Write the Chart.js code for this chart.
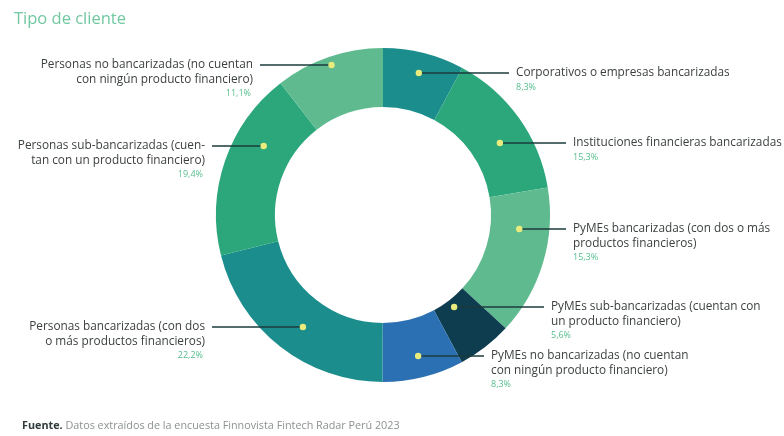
<!DOCTYPE html>
<html lang="es">
<head>
<meta charset="utf-8">
<title>Tipo de cliente</title>
<script src="https://cdn.jsdelivr.net/npm/chart.js@4.4.1/dist/chart.umd.min.js"></script>
<style>
  html, body { margin: 0; padding: 0; background: #ffffff; }
  #wrap { position: relative; width: 784px; height: 436px; overflow: hidden; font-family: "Open Sans", Lato, sans-serif; }
  #chart { position: absolute; left: 0; top: 0; }
  #title { position: absolute; left: 14px; top: 6px; font-size: 16.5px; color: #72c8a0; font-weight: 400; }
  #source { position: absolute; left: 22px; top: 417px; font-size: 10.8px; color: #8c9191; white-space: nowrap; }
  #source b { color: #2f3a3a; font-weight: 700; }
</style>
</head>
<body>
<div id="wrap">
  <canvas id="chart" width="784" height="436"></canvas>
  <div id="title">Tipo de cliente</div>
  <div id="source"><b>Fuente.</b> Datos extraídos de la encuesta Finnovista Fintech Radar Perú 2023</div>
</div>
<script>
// Client segments, clockwise from 12 o'clock
const categories = [
  'Corporativos o empresas bancarizadas',
  'Instituciones financieras bancarizadas',
  'PyMEs bancarizadas (con dos o más productos financieros)',
  'PyMEs sub-bancarizadas (cuentan con un producto financiero)',
  'PyMEs no bancarizadas (no cuentan con ningún producto financiero)',
  'Personas bancarizadas (con dos o más productos financieros)',
  'Personas sub-bancarizadas (cuentan con un producto financiero)',
  'Personas no bancarizadas (no cuentan con ningún producto financiero)'
];

// Share of respondents (%)
const shares = [8.3, 15.3, 15.3, 5.6, 8.3, 22.2, 19.4, 11.1];

// Wrapped text for each callout
const labelLines = [
  ['Corporativos o empresas bancarizadas'],
  ['Instituciones financieras bancarizadas'],
  ['PyMEs bancarizadas (con dos o más', 'productos financieros)'],
  ['PyMEs sub-bancarizadas (cuentan con', 'un producto financiero)'],
  ['PyMEs no bancarizadas (no cuentan', 'con ningún producto financiero)'],
  ['Personas bancarizadas (con dos', 'o más productos financieros)'],
  ['Personas sub-bancarizadas (cuen-', 'tan con un producto financiero)'],
  ['Personas no bancarizadas (no cuentan', 'con ningún producto financiero)']
];

const sliceColors = ['#1b8d8c', '#2ba77b', '#5fbb8f', '#0e3d4f', '#2b70b2', '#1b8d8c', '#2ba77b', '#5fbb8f'];

// Callout placement: text anchor x (left edge on the right side, right edge on the left side) and leader y
const callouts = [
  { side: 'right', x: 516, y: 73 },
  { side: 'right', x: 573, y: 143 },
  { side: 'right', x: 573, y: 229 },
  { side: 'right', x: 551, y: 307 },
  { side: 'right', x: 491, y: 356 },
  { side: 'left',  x: 205, y: 327 },
  { side: 'left',  x: 205, y: 146 },
  { side: 'left',  x: 253, y: 65 }
];

const fmtPct = v => v.toFixed(1).replace('.', ',') + '%';

// Finds a point inside a slice lying on the horizontal line y, close to the slice centre
function anchorInSlice(arc, y) {
  const cx = arc.x, cy = arc.y;
  const rin = arc.innerRadius, rout = arc.outerRadius;
  const rmid = (rin + rout) / 2, halfT = (rout - rin) / 2;
  const span = arc.endAngle - arc.startAngle;
  const margin = Math.min(0.12, span * 0.3);
  const amid = (arc.startAngle + arc.endAngle) / 2;
  let best = null;
  for (let k = 0; k <= 400; k++) {
    const a = arc.startAngle + margin + (span - 2 * margin) * k / 400;
    const s = Math.sin(a);
    if (Math.abs(s) < 1e-4) continue;
    const r = (y - cy) / s;
    if (r < rin + 8 || r > rout - 8) continue;
    const cost = Math.abs(r - rmid) / halfT + Math.abs(a - amid) / (span / 2);
    if (!best || cost < best.cost) best = { cost, x: cx + r * Math.cos(a), y };
  }
  if (!best) best = { x: cx + rmid * Math.cos(amid), y: cy + rmid * Math.sin(amid) };
  return best;
}

const calloutPlugin = {
  id: 'callouts',
  afterDatasetsDraw(chart) {
    const ctx = chart.ctx;
    const meta = chart.getDatasetMeta(0);
    meta.data.forEach((el, i) => {
      const arc = el.getProps(['x', 'y', 'startAngle', 'endAngle', 'innerRadius', 'outerRadius'], true);
      const c = callouts[i];
      const p = anchorInSlice(arc, c.y);
      const lineEnd = c.side === 'right' ? c.x - 7 : c.x + 7;

      ctx.save();
      ctx.strokeStyle = '#1d3b3c';
      ctx.lineWidth = 1.4;
      ctx.beginPath();
      ctx.moveTo(p.x, p.y);
      ctx.lineTo(lineEnd, p.y);
      ctx.stroke();

      ctx.fillStyle = '#e9ec7c';
      ctx.beginPath();
      ctx.arc(p.x, p.y, 3.2, 0, Math.PI * 2);
      ctx.fill();

      ctx.textAlign = c.side === 'right' ? 'left' : 'right';
      ctx.textBaseline = 'middle';
      ctx.fillStyle = '#3b3f40';
      ctx.font = '11.8px "Open Sans", Lato, sans-serif';
      const lines = labelLines[i];
      lines.forEach((t, j) => ctx.fillText(t, c.x, p.y + j * 14.5));
      ctx.fillStyle = '#55bf8e';
      ctx.font = '9px "Open Sans", Lato, sans-serif';
      ctx.fillText(fmtPct(shares[i]), c.side === 'right' ? c.x : c.x - 2, p.y + (lines.length - 1) * 14.5 + 14);
      ctx.restore();
    });
  }
};

new Chart(document.getElementById('chart'), {
  type: 'doughnut',
  data: {
    labels: categories,
    datasets: [{
      data: shares,
      backgroundColor: sliceColors,
      borderWidth: 0,
      hoverOffset: 0
    }]
  },
  options: {
    responsive: false,
    animation: false,
    cutout: '64.7%',
    layout: { padding: { left: 216, right: 234, top: 48, bottom: 54 } },
    plugins: {
      legend: { display: false },
      tooltip: { enabled: false },
      title: { display: false }
    },
    events: []
  },
  plugins: [calloutPlugin]
});
</script>
</body>
</html>
